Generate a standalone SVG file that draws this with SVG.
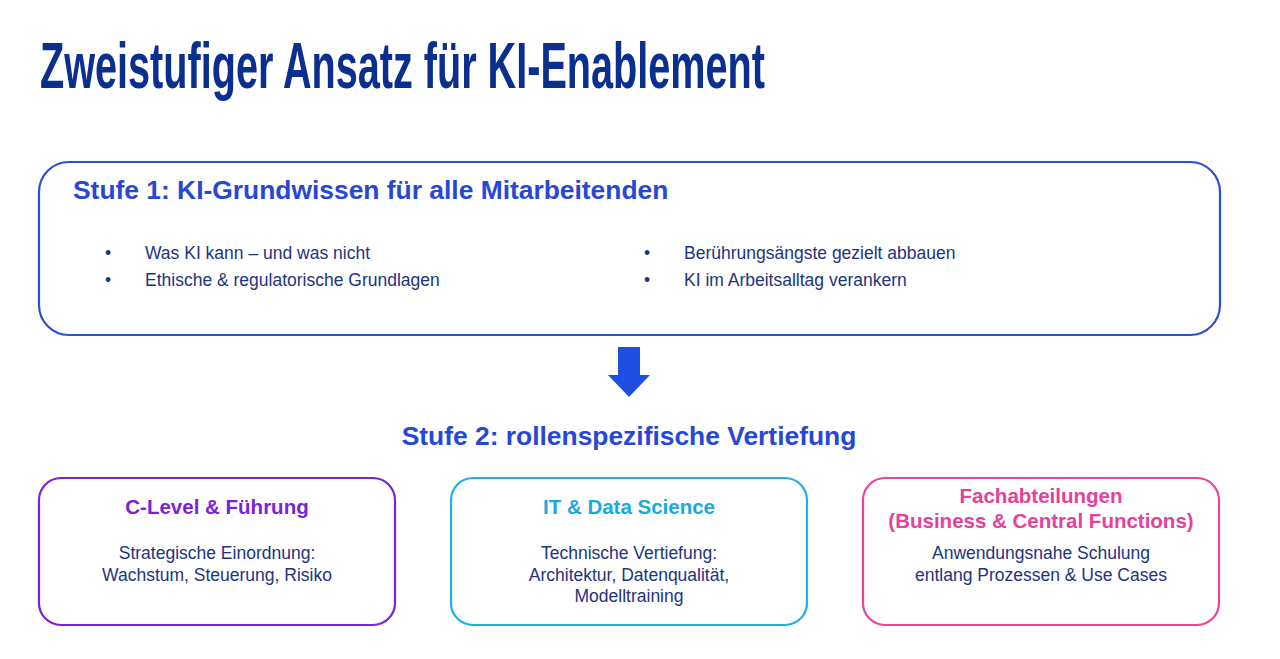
<svg xmlns="http://www.w3.org/2000/svg" width="1280" height="659" viewBox="0 0 1280 659">
<style>
.t{font-family:"Liberation Sans",Arial,sans-serif}
.h{font-weight:bold;font-size:26.4px;fill:#2747d6}
.b{font-size:17.5px;fill:#1d3480}
.nt{font-weight:bold;font-size:20.5px}
</style>
<rect width="1280" height="659" fill="#ffffff"/>
<text id="title" class="t" x="40" y="88" font-size="64" font-weight="bold" fill="#0b2f8f" textLength="725" lengthAdjust="spacingAndGlyphs">Zweistufiger Ansatz für KI-Enablement</text>
<g id="stufe1">
<rect x="39" y="162" width="1181" height="173" rx="30" fill="none" stroke="#2a4fd6" stroke-width="2.2"/>
<text class="t h" x="73" y="199">Stufe 1: KI-Grundwissen für alle Mitarbeitenden</text>
<text class="t b" x="105" y="259">•</text>
<text class="t b" x="145" y="259">Was KI kann – und was nicht</text>
<text class="t b" x="105" y="286">•</text>
<text class="t b" x="145" y="286">Ethische &amp; regulatorische Grundlagen</text>
<text class="t b" x="644" y="259">•</text>
<text class="t b" x="684" y="259">Berührungsängste gezielt abbauen</text>
<text class="t b" x="644" y="286">•</text>
<text class="t b" x="684" y="286">KI im Arbeitsalltag verankern</text>
</g>
<g id="connectors">
<polygon points="618,347 640,347 640,375 650,375 629,397 608,375 618,375" fill="#1f4fe0"/>
</g>
<text id="stufe2" class="t h" x="629" y="445" text-anchor="middle">Stufe 2: rollenspezifische Vertiefung</text>
<g id="clevel">
<rect x="39" y="478" width="356" height="147" rx="22" fill="none" stroke="#7a22d8" stroke-width="2.2"/>
<text class="t nt" x="217" y="514" text-anchor="middle" fill="#7b22d8">C-Level &amp; Führung</text>
<text class="t b" x="217" y="559" text-anchor="middle">Strategische Einordnung:</text>
<text class="t b" x="217" y="581" text-anchor="middle">Wachstum, Steuerung, Risiko</text>
</g>
<g id="it">
<rect x="451" y="478" width="356" height="147" rx="22" fill="none" stroke="#1fb0e3" stroke-width="2.2"/>
<text class="t nt" x="629" y="514" text-anchor="middle" fill="#1aa8e0">IT &amp; Data Science</text>
<text class="t b" x="629" y="559" text-anchor="middle">Technische Vertiefung:</text>
<text class="t b" x="629" y="581" text-anchor="middle">Architektur, Datenqualität,</text>
<text class="t b" x="629" y="602" text-anchor="middle">Modelltraining</text>
</g>
<g id="fach">
<rect x="863" y="478" width="356" height="147" rx="22" fill="none" stroke="#e8449c" stroke-width="2.2"/>
<text class="t nt" x="1041" y="503" text-anchor="middle" fill="#e8409a">Fachabteilungen</text>
<text class="t nt" x="1041" y="528" text-anchor="middle" fill="#e8409a">(Business &amp; Central Functions)</text>
<text class="t b" x="1041" y="559" text-anchor="middle">Anwendungsnahe Schulung</text>
<text class="t b" x="1041" y="581" text-anchor="middle">entlang Prozessen &amp; Use Cases</text>
</g>
</svg>
